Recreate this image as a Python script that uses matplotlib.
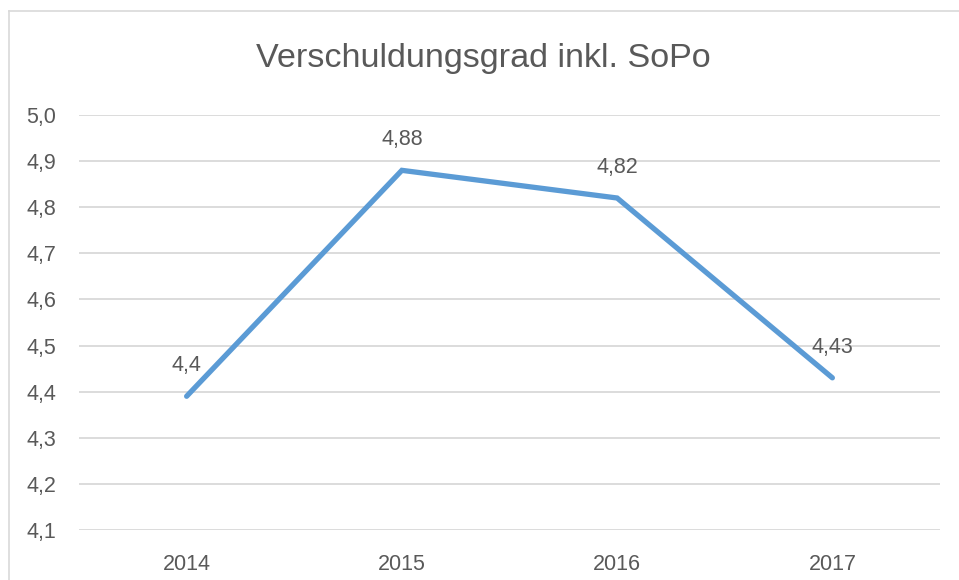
import matplotlib
matplotlib.use("Agg")
import matplotlib.pyplot as plt
from matplotlib.lines import Line2D

years = ["2014", "2015", "2016", "2017"]
values = [4.39, 4.88, 4.82, 4.43]
value_labels = ["4,4", "4,88", "4,82", "4,43"]
y_ticks = [4.1, 4.2, 4.3, 4.4, 4.5, 4.6, 4.7, 4.8, 4.9, 5.0]
title = "Verschuldungsgrad inkl. SoPo"

text_color = "#595959"
grid_color = "#D9D9D9"
line_color = "#5B9BD5"
font = "Liberation Sans"

W, H = 959, 580
fig = plt.figure(figsize=(W / 100, H / 100), dpi=100)

# chart frame (left and top edges visible, rest is cropped)
fig.add_artist(Line2D([9 / W, 9 / W], [0, 1 - 11 / H], color=grid_color,
                      linewidth=1.2, transform=fig.transFigure))
fig.add_artist(Line2D([9 / W, 1], [1 - 11 / H, 1 - 11 / H], color=grid_color,
                      linewidth=1.2, transform=fig.transFigure))

left, right, top, bottom = 79, 940, 115, 530
ax = fig.add_axes((left / W, 1 - bottom / H, (right - left) / W, (bottom - top) / H))

x = range(len(years))
ax.plot(x, values, color=line_color, linewidth=3.8,
        solid_capstyle="round", solid_joinstyle="miter", zorder=3)

for xi, v, lab in zip(x, values, value_labels):
    ax.annotate(lab, (xi, v), xytext=(0, 22), textcoords="offset points",
                ha="center", va="center", color=text_color,
                fontsize=15.5, family=font)

ax.set_xlim(-0.5, len(years) - 0.5)
ax.set_ylim(4.1, 5.0)
ax.set_yticks(y_ticks)
ax.set_yticklabels([f"{t:.1f}".replace(".", ",") for t in y_ticks])
ax.set_xticks(list(x))
ax.set_xticklabels(years)

for t in y_ticks:
    ax.axhline(t, color=grid_color, linewidth=1.3, zorder=1)

for s in ax.spines.values():
    s.set_visible(False)
ax.tick_params(length=0, colors=text_color, labelsize=15.5)
ax.tick_params(axis="y", pad=16.5)
ax.tick_params(axis="x", pad=17)
for lab in ax.get_xticklabels() + ax.get_yticklabels():
    lab.set_family(font)

fig.text(483 / W, 1 - 58 / H, title, ha="center", va="center",
         color=text_color, fontsize=24.6, family=font)

fig.savefig("out.png", dpi=100)
